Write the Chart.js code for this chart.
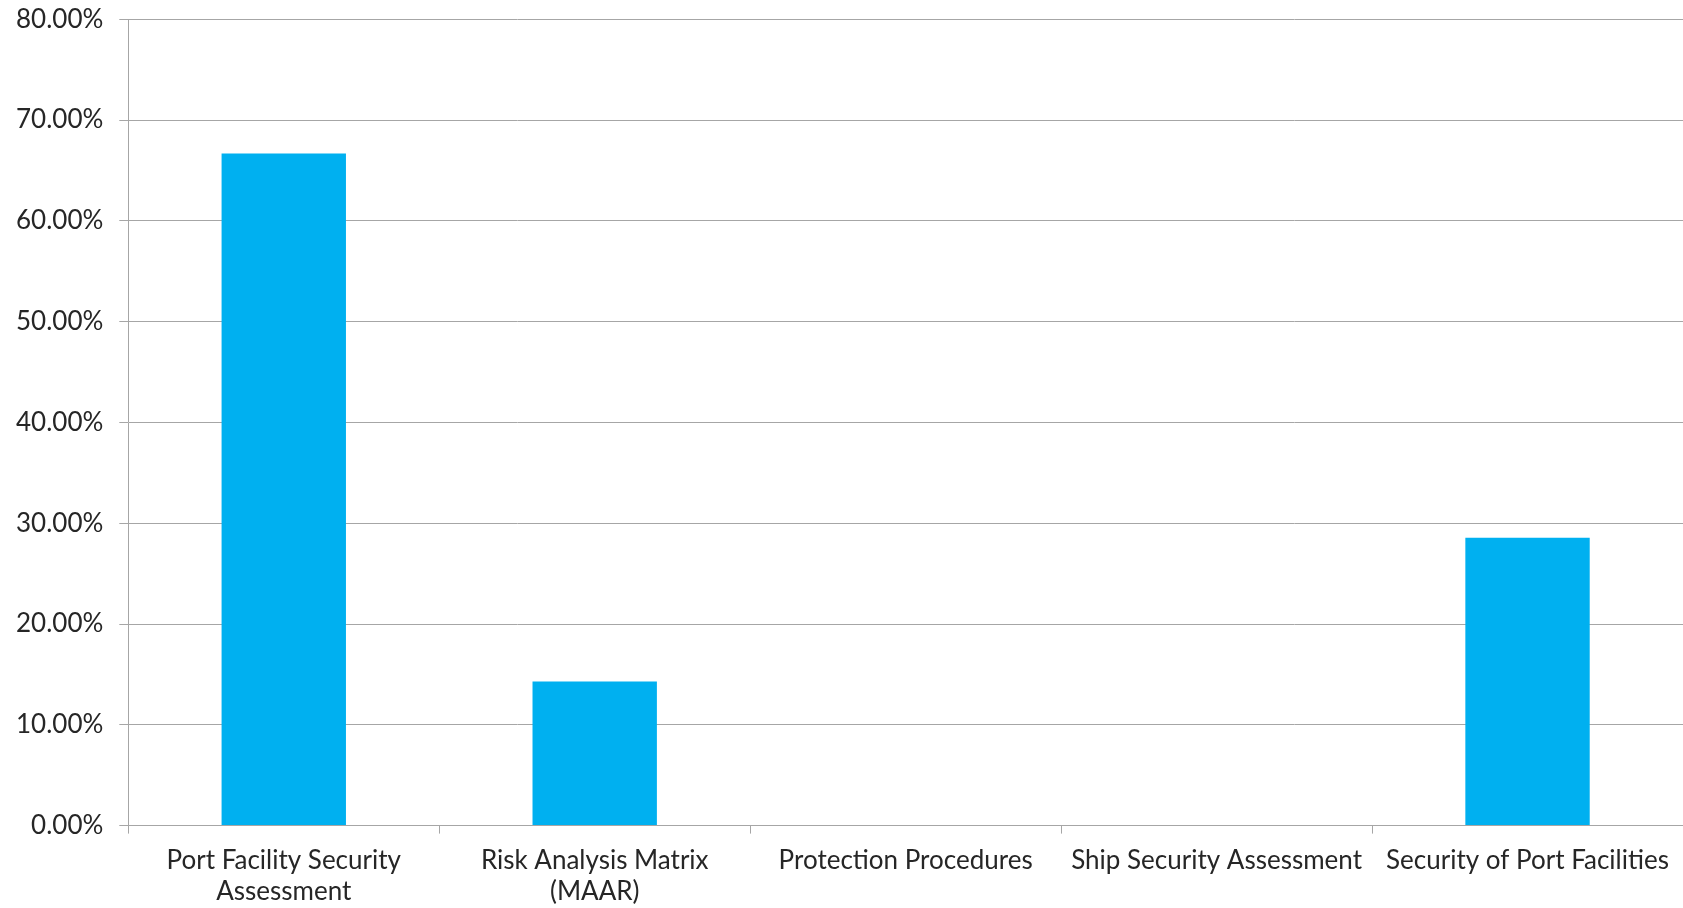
<!DOCTYPE html>
<html>
<head>
<meta charset="utf-8">
<title>Security topics</title>
<script src="https://cdn.jsdelivr.net/npm/chart.js@4/dist/chart.umd.min.js"></script>
<style>
  html, body { margin: 0; padding: 0; background: #ffffff; }
  #wrap { width: 1683px; height: 908px; }
</style>
</head>
<body>
<div id="wrap"><canvas id="barChart" width="1683" height="908"></canvas></div>
<script>
// --- dati ---
const categories = [
    ['Port Facility Security', 'Assessment'],
    ['Risk Analysis Matrix', '(MAAR)'],
    'Protection Procedures',
    'Ship Security Assessment',
    'Security of Port Facilities'
];
const shares = [66.67, 14.29, 0, 0, 28.57]; // percent
const yMin = 0;
const yMax = 80;
const yStep = 10;

const gridColor = '#a6a6a6';
const textColor = '#262626';
const fontFamily = 'Lato, "Noto Sans", sans-serif';

const ctx = document.getElementById('barChart').getContext('2d');
const myChart = new Chart(ctx, {
    type: 'bar',
    data: {
        labels: categories,
        datasets: [{
            data: shares,
            backgroundColor: '#00b0f0',
            borderWidth: 0,
            categoryPercentage: 1.0,
            barPercentage: 0.4
        }]
    },
    options: {
        responsive: false,
        animation: false,
        devicePixelRatio: 1,
        layout: { padding: { top: 0, left: 0, right: 0, bottom: -10 } },
        plugins: {
            legend: { display: false },
            tooltip: { enabled: false }
        },
        scales: {
            x: {
                offset: true,
                grid: {
                    offset: true,
                    drawOnChartArea: false,
                    drawTicks: true,
                    tickLength: 8,
                    color: gridColor
                },
                border: { color: gridColor, width: 1 },
                ticks: {
                    color: textColor,
                    font: { family: fontFamily, size: 26, lineHeight: 1.2 },
                    maxRotation: 0,
                    minRotation: 0,
                    autoSkip: false,
                    padding: 11
                }
            },
            y: {
                min: yMin,
                max: yMax,
                grid: {
                    color: gridColor,
                    tickLength: 9
                },
                border: { color: gridColor, width: 1 },
                ticks: {
                    stepSize: yStep,
                    color: textColor,
                    // piccolo lineHeight: le etichette sono su una riga, serve solo a stringere il margine in alto
                    font: { family: fontFamily, size: 26, lineHeight: 0.25 },
                    padding: 16,
                    callback: v => v.toFixed(2) + '%'
                }
            }
        }
    }
});
</script>
</body>
</html>
